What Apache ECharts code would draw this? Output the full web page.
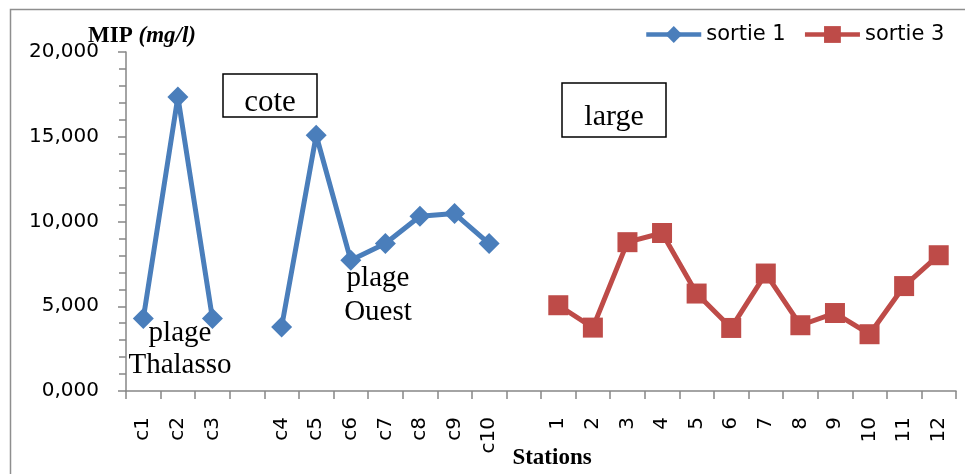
<!DOCTYPE html>
<html>
<head>
<meta charset="utf-8">
<script src="https://cdn.jsdelivr.net/npm/echarts@6/dist/echarts.min.js"></script>
<style>
  html, body { margin: 0; padding: 0; background: #fff; }
  #chart { width: 965px; height: 474px; }
</style>
</head>
<body>
<div id="chart"></div>
<script>
// Coastal stations (two beaches) and offshore stations
const stationsThalasso = ['c1', 'c2', 'c3'];
const stationsOuest = ['c4', 'c5', 'c6', 'c7', 'c8', 'c9', 'c10'];
const stationsLarge = ['1', '2', '3', '4', '5', '6', '7', '8', '9', '10', '11', '12'];

// MIP concentrations (mg/l)
const sortie1 = [4.27, 17.35, 4.27, 3.78, 15.09, 7.71, 8.70, 10.31, 10.47, 8.70];
const sortie3 = [5.06, 3.74, 8.78, 9.32, 5.75, 3.72, 6.93, 3.88, 4.60, 3.35, 6.19, 8.01];

// y-axis ticks
const yTicks = [0, 5, 10, 15, 20];

// Category axis: an empty slot separates each group of stations
const categories = [...stationsThalasso, '', ...stationsOuest, '', ...stationsLarge];

const coteStations = [...stationsThalasso, ...stationsOuest];
const s1Data = categories.map(c => {
  const i = coteStations.indexOf(c);
  return c !== '' && i >= 0 ? sortie1[i] : null;
});
const startLarge = categories.length - stationsLarge.length;
const s3Data = categories.map((c, k) => k >= startLarge ? sortie3[k - startLarge] : null);

const BLUE = '#4A7EBB';
const RED = '#BE4B48';
const AXIS = '#868686';
const SANS = 'DejaVu Sans';
const SERIF = 'Liberation Serif';

const chart = echarts.init(document.getElementById('chart'), null, { renderer: 'canvas' });

chart.setOption({
  animation: false,
  backgroundColor: '#fff',
  grid: { left: 126, right: 9, top: 52, bottom: 83, containLabel: false, outerBoundsMode: 'none' },
  legend: {
    left: 644,
    top: 24,
    padding: 0,
    itemWidth: 55,
    itemHeight: 21,
    itemGap: 17,
    lineStyle: { width: 4.5 },
    textStyle: { fontFamily: SANS, fontSize: 21, color: '#000' },
    data: ['sortie 1', 'sortie 3']
  },
  xAxis: {
    type: 'category',
    data: categories,
    boundaryGap: true,
    name: 'Stations',
    nameLocation: 'middle',
    nameGap: 56,
    nameMoveOverlap: false,
    nameTextStyle: {
      fontFamily: SERIF, fontWeight: 'bold', fontSize: 23, color: '#000',
      padding: [0, 0, 0, 22]
    },
    axisLine: { lineStyle: { color: AXIS, width: 1.5 } },
    axisTick: { show: true, interval: 0, length: 8, lineStyle: { color: AXIS, width: 1.5 } },
    axisLabel: {
      interval: 0, rotate: 90, margin: 26,
      fontFamily: SANS, fontSize: 20, color: '#000'
    },
    splitLine: { show: false }
  },
  yAxis: {
    type: 'value',
    min: yTicks[0],
    max: yTicks[yTicks.length - 1],
    interval: yTicks[1] - yTicks[0],
    name: '{b|MIP }{bi|(mg/l)}',
    nameLocation: 'end',
    nameGap: 4,
    nameMoveOverlap: false,
    nameTextStyle: {
      align: 'center',
      padding: [0, 0, 0, 32],
      rich: {
        b: { fontFamily: SERIF, fontWeight: 'bold', fontSize: 23, color: '#000' },
        bi: { fontFamily: SERIF, fontWeight: 'bold', fontStyle: 'italic', fontSize: 23, color: '#000' }
      }
    },
    axisLine: { show: true, lineStyle: { color: AXIS, width: 1.5 } },
    axisTick: { show: true, length: 8, lineStyle: { color: AXIS, width: 1.5 } },
    minorTick: { show: true, splitNumber: 5, length: 7, lineStyle: { color: AXIS, width: 1.5 } },
    axisLabel: {
      margin: 27,
      fontFamily: SANS, fontSize: 20, color: '#000',
      formatter: v => v.toFixed(3).replace('.', ',')
    },
    splitLine: { show: false }
  },
  series: [
    {
      name: 'sortie 1',
      type: 'line',
      data: s1Data,
      connectNulls: false,
      symbol: 'diamond',
      symbolSize: 21,
      itemStyle: { color: BLUE },
      lineStyle: { color: BLUE, width: 5 },
      z: 3
    },
    {
      name: 'sortie 3',
      type: 'line',
      data: s3Data,
      connectNulls: false,
      symbol: 'rect',
      symbolSize: 20,
      itemStyle: { color: RED },
      lineStyle: { color: RED, width: 5 },
      z: 3
    }
  ],
  graphic: [
    // outer frame
    {
      type: 'rect', silent: true, z: 0,
      shape: { x: 10.5, y: 9.5, width: 1000, height: 1000 },
      style: { fill: 'none', stroke: '#8E8E8E', lineWidth: 1.5 }
    },
    // zone labels
    {
      type: 'rect', silent: true, z: 10,
      shape: { x: 223, y: 74, width: 94, height: 43 },
      style: { fill: '#fff', stroke: '#000', lineWidth: 1.5 }
    },
    {
      type: 'text', silent: true, z: 11,
      x: 270, y: 103,
      style: { text: 'cote', fontFamily: SERIF, fontSize: 31, fill: '#000', align: 'center', verticalAlign: 'middle' }
    },
    {
      type: 'rect', silent: true, z: 10,
      shape: { x: 562, y: 83, width: 104, height: 54 },
      style: { fill: '#fff', stroke: '#000', lineWidth: 1.5 }
    },
    {
      type: 'text', silent: true, z: 11,
      x: 614, y: 117,
      style: { text: 'large', fontFamily: SERIF, fontSize: 30, fill: '#000', align: 'center', verticalAlign: 'middle' }
    },
    // beach names
    {
      type: 'text', silent: true, z: 11,
      x: 180, y: 349,
      style: { text: 'plage\nThalasso', fontFamily: SERIF, fontSize: 29, lineHeight: 32, fill: '#000', align: 'center', verticalAlign: 'middle' }
    },
    {
      type: 'text', silent: true, z: 11,
      x: 378, y: 295,
      style: { text: 'plage\nOuest', fontFamily: SERIF, fontSize: 29, lineHeight: 34, fill: '#000', align: 'center', verticalAlign: 'middle' }
    }
  ]
});
</script>
</body>
</html>
